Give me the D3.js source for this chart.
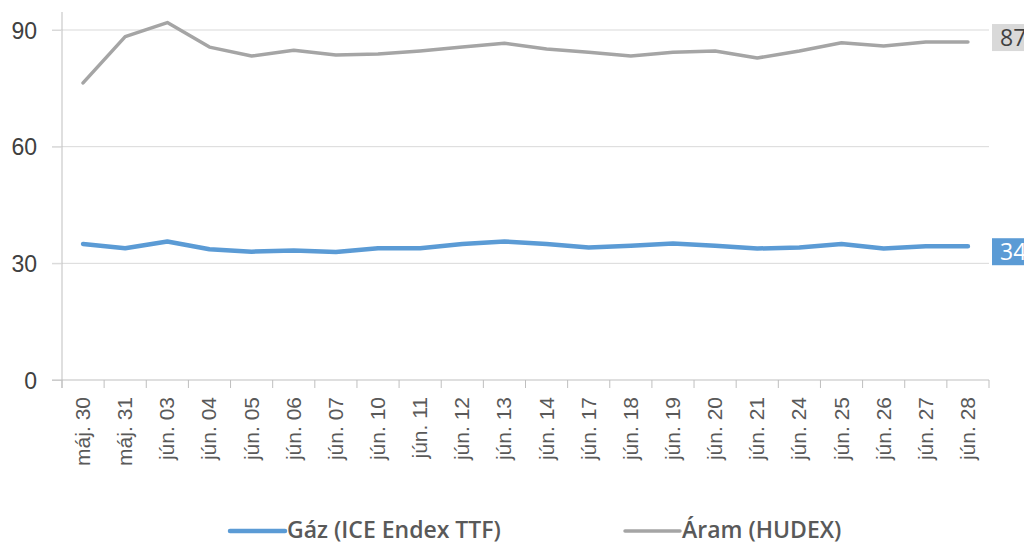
<!DOCTYPE html>
<html>
<head>
<meta charset="utf-8">
<script src="https://cdn.jsdelivr.net/npm/d3@7"></script>
<style>
  body { margin: 0; background: #fff; }
  svg { display: block; font-family: "Open Sans", "Noto Sans", sans-serif; }
</style>
</head>
<body>
<div id="vis"></div>
<script>
var width = 1024, height = 545
var margin = { top: 30, left: 62, bottom: 165, right: 35 }

// categories + series
var dates = ['máj. 30', 'máj. 31', 'jún. 03', 'jún. 04', 'jún. 05', 'jún. 06', 'jún. 07',
  'jún. 10', 'jún. 11', 'jún. 12', 'jún. 13', 'jún. 14', 'jún. 17', 'jún. 18', 'jún. 19',
  'jún. 20', 'jún. 21', 'jún. 24', 'jún. 25', 'jún. 26', 'jún. 27', 'jún. 28']
var gas = [35.0, 33.9, 35.6, 33.6, 33.0, 33.3, 32.9, 33.9, 33.9, 35.0, 35.6, 35.0, 34.1,
  34.5, 35.1, 34.5, 33.8, 34.1, 35.0, 33.8, 34.4, 34.4]
var power = [76.4, 88.3, 91.9, 85.6, 83.3, 84.8, 83.6, 83.8, 84.6, 85.6, 86.6, 85.1, 84.3,
  83.3, 84.3, 84.6, 82.8, 84.6, 86.7, 85.9, 86.9, 86.9]
var yTicks = [0, 30, 60, 90]
var seriesNames = ['Gáz (ICE Endex TTF)', 'Áram (HUDEX)']

var plotW = 989 - margin.left
var plotH = 380 - margin.top

var svg = d3.select('#vis').append('svg')
  .attr('width', width)
  .attr('height', height)

var g = svg.append('g')
  .attr('transform', 'translate(' + margin.left + ',' + margin.top + ')')

var x = d3.scaleBand()
  .domain(dates)
  .range([0, plotW])

var y = d3.scaleLinear()
  .domain([0, 90])
  .range([plotH, 0])

// gridlines
g.selectAll('.grid')
  .data(yTicks.filter(d => d > 0))
  .enter().append('line')
  .attr('class', 'grid')
  .attr('x1', -10).attr('x2', plotW)
  .attr('y1', d => y(d)).attr('y2', d => y(d))
  .attr('stroke', '#d9d9d9')
  .attr('stroke-width', 1)

// y axis
var yAxis = g.append('g')
  .call(d3.axisLeft(y).tickValues(yTicks).tickSize(10).tickPadding(15))
yAxis.select('.domain').attr('stroke', '#bfbfbf').attr('d', 'M0,' + (plotH + 8) + 'V-18')
yAxis.selectAll('.tick line').attr('stroke', '#d9d9d9')
yAxis.selectAll('.tick text')
  .attr('fill', '#404040')
  .attr('dy', '0.36em')
  .style('font-size', '23px')

// x axis
var xAxis = g.append('g')
  .attr('transform', 'translate(0,' + plotH + ')')
  .call(d3.axisBottom(x).tickSize(0).tickFormat(''))
xAxis.select('.domain').attr('stroke', '#bfbfbf').attr('d', 'M-10,0H' + plotW)
xAxis.selectAll('.tick').remove()

// band boundary ticks
xAxis.selectAll('.bt')
  .data(d3.range(dates.length + 1))
  .enter().append('line')
  .attr('x1', i => i * x.step()).attr('x2', i => i * x.step())
  .attr('y1', 0).attr('y2', 8)
  .attr('stroke', '#bfbfbf')

xAxis.selectAll('.lbl')
  .data(dates)
  .enter().append('text')
  .attr('transform', d => 'translate(' + (x(d) + x.bandwidth() / 2 + 7) + ',17) rotate(-90)')
  .attr('text-anchor', 'end')
  .attr('fill', '#595959')
  .style('font-size', '21px')
  .text(d => d)

var line = d3.line()
  .x((d, i) => x(dates[i]) + x.bandwidth() / 2)
  .y(d => y(d))

g.append('path')
  .datum(power)
  .attr('fill', 'none')
  .attr('stroke', '#a5a5a5')
  .attr('stroke-width', 3.5)
  .attr('stroke-linejoin', 'round')
  .attr('stroke-linecap', 'round')
  .attr('d', line)

g.append('path')
  .datum(gas)
  .attr('fill', 'none')
  .attr('stroke', '#5b9bd5')
  .attr('stroke-width', 4.5)
  .attr('stroke-linejoin', 'round')
  .attr('stroke-linecap', 'round')
  .attr('d', line)

// end labels (cut by the right edge, as in the source chart)
var lastP = power[power.length - 1], lastG = gas[gas.length - 1]
var labels = [
  { v: lastP, fill: '#d9d9d9', color: '#404040', off: -18 },
  { v: lastG, fill: '#5b9bd5', color: '#ffffff', off: -8 }
]
labels.forEach(l => {
  var top = margin.top + y(l.v) + l.off
  svg.append('rect')
    .attr('x', 992).attr('y', top)
    .attr('width', 60).attr('height', 27)
    .attr('fill', l.fill)
  svg.append('text')
    .attr('x', 1000).attr('y', top + 22)
    .attr('fill', l.color)
    .style('font-size', '23px')
    .text(Math.round(l.v))
})

// legend
var legend = [
  { name: seriesNames[0], color: '#5b9bd5', w: 4.5, x0: 230 },
  { name: seriesNames[1], color: '#a5a5a5', w: 3.5, x0: 625 }
]
legend.forEach(l => {
  svg.append('line')
    .attr('x1', l.x0).attr('x2', l.x0 + 55)
    .attr('y1', 531).attr('y2', 531)
    .attr('stroke', l.color)
    .attr('stroke-width', l.w)
    .attr('stroke-linecap', 'round')
  svg.append('text')
    .attr('x', l.x0 + 57).attr('y', 538)
    .attr('fill', '#595959')
    .style('font-size', '23px')
    .style('font-weight', '600')
    .text(l.name)
})
</script>
</body>
</html>
